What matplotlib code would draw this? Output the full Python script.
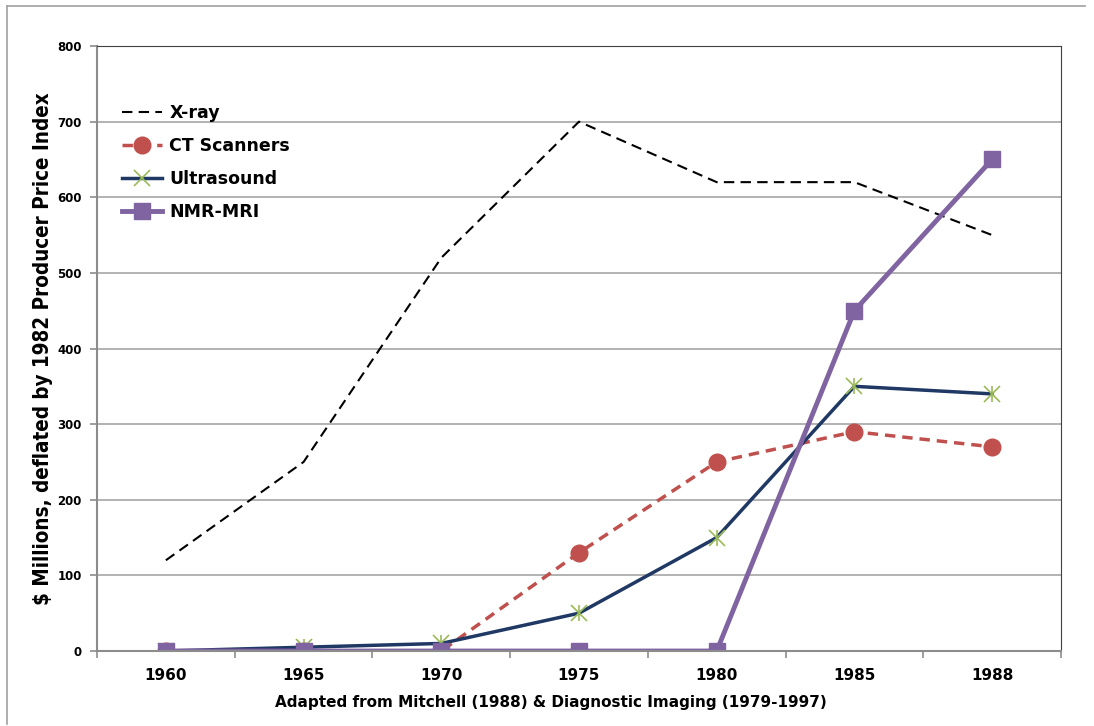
import numpy as np
import matplotlib.pyplot as plt
from matplotlib.lines import Line2D

# dados (milhões de US$, deflacionados pelo PPI de 1982)
anos = ["1960", "1965", "1970", "1975", "1980", "1985", "1988"]
xray = [120, 250, 520, 700, 620, 620, 550]
ct = [0, 0, 0, 130, 250, 290, 270]
ultrassom = [0, 5, 10, 50, 150, 350, 340]
nmr = [0, 0, 0, 0, 0, 450, 650]

x = np.arange(len(anos))

fig = plt.figure(figsize=(10.94, 7.26), dpi=100)
ax = fig.add_axes([0.0887, 0.1033, 0.8811, 0.8333])

cinza = "#8c8c8c"

ax.plot(x, xray, color="black", linestyle=(0, (5, 3)), linewidth=1.5, label="X-ray")
ax.plot(x, ct, color="#C0504D", linestyle=(0, (3, 2)), linewidth=2.5,
        marker="o", markersize=12, label="CT Scanners")
ax.plot(x, ultrassom, color="#1F3864", linewidth=2.5, marker="x", markersize=12,
        markeredgecolor="#9BBB59", markeredgewidth=1.2, label="Ultrasound")
ax.plot(x, ultrassom, linestyle="none", marker="|", markersize=12,
        markeredgecolor="#9BBB59", markeredgewidth=1.2)
ax.plot(x, nmr, color="#8064A2", linewidth=3.5, marker="s", markersize=12, label="NMR-MRI")

ax.set_xlim(-0.5, len(anos) - 0.5)
ax.set_ylim(0, 800)
ax.set_yticks(np.arange(0, 801, 100))
ax.set_xticks(x)
ax.set_xticklabels(anos, fontsize=11, fontweight="bold")
ax.set_xticks(np.arange(-0.5, len(anos), 1), minor=True)
ax.tick_params(axis="x", which="major", length=0, pad=12)
ax.tick_params(axis="x", which="minor", length=5, color=cinza, width=1.2)
ax.tick_params(axis="y", length=5, color=cinza, width=1.2, pad=6)
for lbl in ax.get_yticklabels():
    lbl.set_fontsize(8.5)
    lbl.set_fontweight("bold")

ax.grid(axis="y", color="#a6a6a6", linewidth=1.2)
ax.set_axisbelow(True)

ax.spines["left"].set_color(cinza)
ax.spines["bottom"].set_color(cinza)
ax.spines["left"].set_linewidth(1.5)
ax.spines["bottom"].set_linewidth(1.5)
ax.spines["top"].set_color("#404040")
ax.spines["right"].set_color("#404040")

ax.set_ylabel("$ Millions, deflated by 1982 Producer Price Index",
              family=["Liberation Sans Narrow", "DejaVu Sans Condensed", "DejaVu Sans"],
              fontstretch="condensed", fontsize=14.8, fontweight="bold", labelpad=3)
ax.set_xlabel("Adapted from Mitchell (1988) & Diagnostic Imaging (1979-1997)",
              fontsize=11, fontweight="bold")
ax.xaxis.set_label_coords(0.471, -0.072)

leg = ax.legend(loc="upper left", bbox_to_anchor=(0.01, 0.93), frameon=False,
                prop={"weight": "bold", "size": 12.5}, handlelength=2.3,
                labelspacing=0.86, handletextpad=0.4)

# borda externa do gráfico
fig.add_artist(Line2D([0.0064, 0.0064], [0.003, 0.9917], color="#a0a0a0", linewidth=1.2))
fig.add_artist(Line2D([0.0064, 0.992], [0.9917, 0.9917], color="#a0a0a0", linewidth=1.2))

fig.savefig("out.png", dpi=100)
